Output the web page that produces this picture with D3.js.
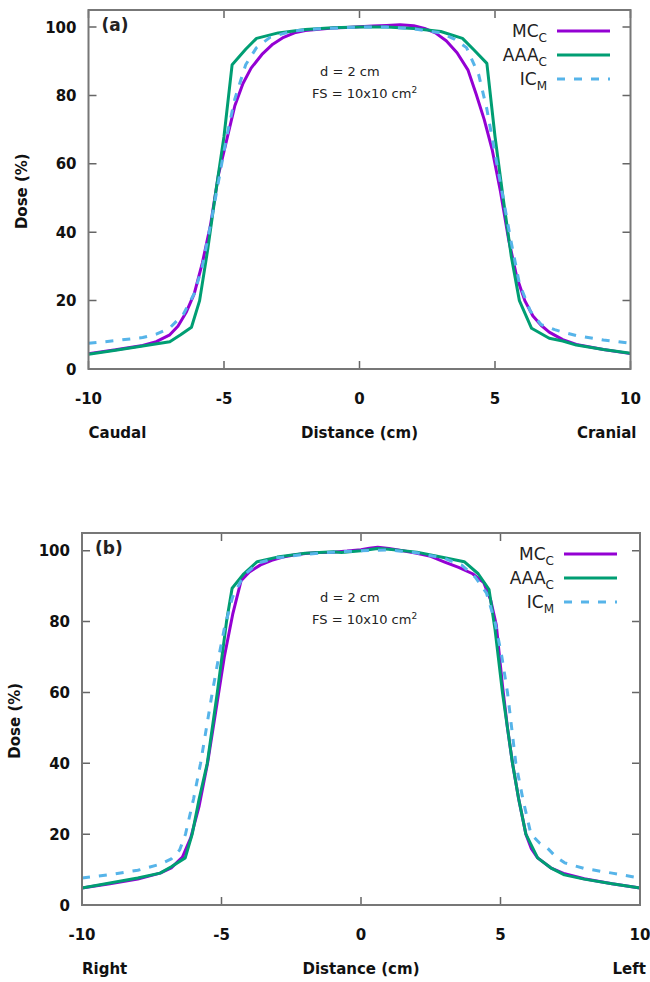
<!DOCTYPE html>
<html lang="en">
<head>
<meta charset="UTF-8" />
<title>Dose profiles</title>
<script src="https://d3js.org/d3.v7.min.js"></script>
<style>
    body { margin: 0; background: #fff; }
    svg { display: block; font-family: "DejaVu Sans", Verdana, sans-serif; }
    .tick-label { font-size: 15px; font-weight: bold; fill: #111; }
    .axis-title { font-size: 15px; font-weight: bold; fill: #111; }
    .legend-text { font-size: 17px; fill: #222; }
    .note { font-size: 13px; fill: #222; }
</style>
</head>
<body>
<svg id="chart" width="650" height="982"></svg>
<script>
// axis ticks
const xTicks = [-10, -5, 0, 5, 10];
const yTicks = [0, 20, 40, 60, 80, 100];

// legend
const legendMain = ["MC", "AAA", "IC"];
const legendSub = ["C", "C", "M"];
const colors = ["#9400d3", "#009e73", "#56b4e9"];

// panel (a) - caudal/cranial
const xMcA = [-10, -9, -8, -7.5, -7, -6.7, -6.4, -6.1, -5.8, -5.5, -5.2, -4.9, -4.6, -4.3, -4, -3.6, -3.2, -2.8, -2.4, -2, -1.5, -1, -0.5, 0, 0.5, 1, 1.5, 2, 2.4, 2.8, 3.2, 3.6, 4, 4.3, 4.6, 4.9, 5.2, 5.5, 5.8, 6.1, 6.4, 6.7, 7, 7.5, 8, 9, 10];
const doseMcA = [4.5, 5.6, 6.9, 8, 10, 12.5, 16.5, 22, 31, 42, 57, 67, 77, 83.5, 88, 92, 95, 97, 98.3, 99, 99.4, 99.7, 99.9, 100.1, 100.3, 100.5, 100.7, 100.4, 99.6, 98.3, 96, 92.5, 87.5, 80.5, 73, 64, 52, 38, 27, 20, 15.5, 12.8, 10.8, 8.6, 7.2, 5.7, 4.5];

const xAaaA = [-10, -9, -8, -7, -6.6, -6.2, -5.9, -5.6, -5.3, -5, -4.7, -4.2, -3.8, -3, -2, -1, 0, 1, 2, 3, 3.8, 4.2, 4.7, 5, 5.3, 5.6, 5.9, 6.35, 7, 7.5, 8, 9, 10];
const doseAaaA = [4.3, 5.5, 6.7, 8, 10, 12.2, 20, 35, 52, 68, 89, 93.5, 96.7, 98.3, 99.3, 99.8, 100, 100, 99.6, 98.7, 96.7, 93.5, 89.4, 68, 50, 33, 20, 11.9, 9, 8.2, 7, 5.7, 4.6];

const xIcA = [-10, -9, -8, -7.5, -7, -6.5, -6.1, -5.8, -5.5, -5.2, -4.9, -4.6, -4.2, -3.8, -3.3, -2.5, -1.5, 0, 1, 2, 3, 3.5, 3.95, 4.4, 4.7, 5, 5.3, 5.6, 5.9, 6.3, 6.7, 7.2, 7.5, 8, 9, 10];
const doseIcA = [7.5, 8.3, 9.2, 10.2, 12, 16, 22, 30, 42, 55, 68, 79, 89, 94, 97, 98.8, 99.5, 100, 100, 99.5, 98.3, 96.5, 94, 86, 76, 63, 50, 37, 25, 17, 13, 11.5, 10.8, 9.8, 8.5, 7.5];

// panel (b) - right/left
const xMcB = [-10, -9, -8, -7.2, -6.8, -6.4, -6.1, -5.8, -5.5, -5.2, -4.9, -4.6, -4.3, -4, -3.6, -3.2, -2.8, -2.4, -2, -1.5, -1, -0.5, 0, 0.3, 0.6, 1, 1.5, 2, 2.5, 3, 3.5, 4, 4.4, 4.65, 4.85, 5.07, 5.25, 5.43, 5.65, 5.91, 6.1, 6.33, 6.8, 7.3, 8, 9, 10];
const doseMcB = [4.8, 6, 7.3, 9, 10.5, 13.5, 19, 28, 40, 55, 70, 82, 91.5, 94, 96, 97.3, 98.2, 98.8, 99.2, 99.5, 99.6, 99.9, 100.3, 100.7, 101, 100.6, 100, 99.3, 98.4, 96.8, 95.3, 93.5, 91, 86, 79, 62, 50, 40, 30, 20, 16, 13.3, 10.5, 8.8, 7.4, 6, 4.8];

const xAaaB = [-10, -9, -8, -7.2, -6.8, -6.3, -6.05, -5.8, -5.51, -5.15, -4.82, -4.62, -4.2, -3.72, -3, -2, -1, -0.7, 0, 0.6, 1, 2, 3, 3.7, 4.2, 4.59, 4.8, 5.07, 5.25, 5.43, 5.65, 5.91, 6.33, 6.8, 7.29, 8, 9, 10];
const doseAaaB = [4.8, 6.2, 7.6, 9, 10.8, 13.3, 20, 30, 40, 60, 80, 89.4, 93.5, 96.9, 98.2, 99.3, 99.7, 99.5, 100, 100.6, 100.4, 99.6, 98, 96.9, 93.5, 89, 78, 60, 50, 40, 30, 20, 13.3, 10.5, 8.5, 7.3, 6, 4.8];

const xIcB = [-10, -9, -8, -7.2, -6.8, -6.5, -6.29, -6, -5.75, -5.33, -5.1, -4.9, -4.6, -4.2, -3.7, -3, -2, -1, 0, 1, 2, 3, 3.6, 4.1, 4.5, 4.8, 5.05, 5.25, 5.55, 5.8, 6.09, 6.4, 6.69, 7, 7.3, 8, 9, 10];
const doseIcB = [7.6, 8.6, 9.8, 11.5, 13, 15.5, 20, 30, 40, 60, 70, 78, 87, 93, 96.5, 98, 99, 99.6, 100, 100.2, 99.4, 97.8, 96, 92.5, 88, 80, 70, 60, 40, 30, 20, 17.5, 16, 13.5, 11.9, 10.3, 9, 7.6];

const panels = [
    {
        tag: "(a)", sideLeft: "Caudal", sideRight: "Cranial",
        left: 88.5, right: 630.5, top: 10, bottom: 369, yTitleX: 27,
        series: [[xMcA, doseMcA], [xAaaA, doseAaaA], [xIcA, doseIcA]],
        legendX: 557, noteX: 320, noteY: 76
    },
    {
        tag: "(b)", sideLeft: "Right", sideRight: "Left",
        left: 82, right: 640, top: 533, bottom: 905, yTitleX: 20,
        series: [[xMcB, doseMcB], [xAaaB, doseAaaB], [xIcB, doseIcB]],
        legendX: 564, noteX: 320, noteY: 602
    }
];

const svg = d3.select("#chart");

function drawPanel(p) {
    const g = svg.append("g");
    const x = d3.scaleLinear().domain([-10, 10]).range([p.left, p.right]);
    const y = d3.scaleLinear().domain([0, 105]).range([p.bottom, p.top]);
    const tickLen = 8;

    // ticks (inward, mirrored)
    g.selectAll(".xt").data(xTicks).enter().append("path")
        .attr("d", d => `M${x(d)},${p.bottom}v${-tickLen}M${x(d)},${p.top}v${tickLen}`)
        .attr("stroke", "#666").attr("stroke-width", 1.5);
    g.selectAll(".yt").data(yTicks).enter().append("path")
        .attr("d", d => `M${p.left},${y(d)}h${tickLen}M${p.right},${y(d)}h${-tickLen}`)
        .attr("stroke", "#666").attr("stroke-width", 1.5);

    // tick labels
    g.selectAll(".xl").data(xTicks).enter().append("text")
        .attr("class", "tick-label")
        .attr("x", d => x(d)).attr("y", p.bottom + 35)
        .attr("text-anchor", "middle")
        .text(d => d);
    g.selectAll(".yl").data(yTicks).enter().append("text")
        .attr("class", "tick-label")
        .attr("x", p.left - 12).attr("y", d => y(d) + 5.5)
        .attr("text-anchor", "end")
        .text(d => d);

    // curves
    const line = d3.line().x(d => x(d[0])).y(d => y(d[1]));
    p.series.forEach((s, i) => {
        const pts = s[0].map((v, k) => [v, s[1][k]]);
        g.append("path")
            .attr("d", line(pts))
            .attr("fill", "none")
            .attr("stroke", colors[i])
            .attr("stroke-width", 3)
            .attr("stroke-linejoin", "round")
            .attr("stroke-dasharray", i === 2 ? "8,9" : null);
    });

    // border
    g.append("rect")
        .attr("x", p.left).attr("y", p.top)
        .attr("width", p.right - p.left).attr("height", p.bottom - p.top)
        .attr("fill", "none").attr("stroke", "#777").attr("stroke-width", 2);

    // panel tag
    g.append("text")
        .attr("x", p.left + 13).attr("y", p.top + 21)
        .attr("font-size", 17).attr("font-weight", "bold").attr("fill", "#222")
        .text(p.tag);

    // legend
    legendMain.forEach((name, i) => {
        const ly = p.top + 21 + i * 24;
        const t = g.append("text").attr("class", "legend-text")
            .attr("x", p.legendX - 10).attr("y", ly + 6)
            .attr("text-anchor", "end");
        t.append("tspan").text(name);
        t.append("tspan").attr("font-size", 12).attr("dy", 5).text(legendSub[i]);
        g.append("line")
            .attr("x1", p.legendX).attr("x2", p.legendX + 53)
            .attr("y1", ly).attr("y2", ly)
            .attr("stroke", colors[i]).attr("stroke-width", 3)
            .attr("stroke-dasharray", i === 2 ? "8,9" : null);
    });

    // field note
    g.append("text").attr("class", "note")
        .attr("x", p.noteX).attr("y", p.noteY)
        .text("d = 2 cm");
    const fs = g.append("text").attr("class", "note")
        .attr("x", p.noteX - 8).attr("y", p.noteY + 22);
    fs.append("tspan").text("FS = 10x10 cm");
    fs.append("tspan").attr("font-size", 9).attr("dy", -5).text("2");

    // axis titles
    g.append("text").attr("class", "axis-title")
        .attr("transform", `translate(${p.yTitleX},${y(52)}) rotate(-90)`)
        .attr("text-anchor", "middle")
        .attr("font-size", 14)
        .text("Dose (%)");
    g.append("text").attr("class", "axis-title")
        .attr("x", x(0)).attr("y", p.bottom + 69)
        .attr("text-anchor", "middle")
        .text("Distance (cm)");
    g.append("text").attr("class", "axis-title")
        .attr("x", x(-10)).attr("y", p.bottom + 69)
        .attr("text-anchor", "start")
        .text(p.sideLeft);
    g.append("text").attr("class", "axis-title")
        .attr("x", x(10) + 6).attr("y", p.bottom + 69)
        .attr("text-anchor", "end")
        .text(p.sideRight);
}

panels.forEach(drawPanel);
</script>
</body>
</html>
